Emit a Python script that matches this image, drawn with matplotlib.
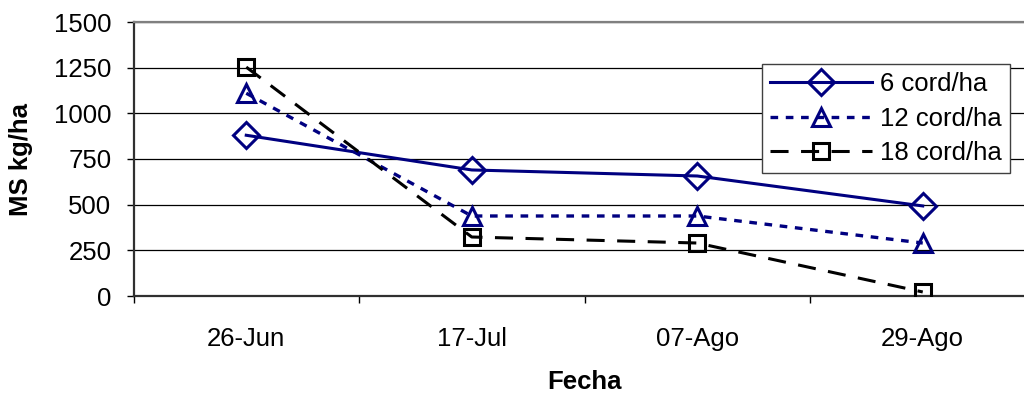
import matplotlib
matplotlib.use("Agg")
import matplotlib.pyplot as plt
from matplotlib.ticker import FixedLocator

plt.rcParams['font.family'] = ['Liberation Sans', 'DejaVu Sans']
plt.rcParams['lines.scale_dashes'] = False

fechas = ['26-Jun', '17-Jul', '07-Ago', '29-Ago']
cord6 = [880, 690, 657, 493]
cord12 = [1110, 438, 438, 290]
cord18 = [1253, 323, 290, 22]
yticks = [0, 250, 500, 750, 1000, 1250, 1500]

navy = '#000080'

fig = plt.figure(figsize=(10.24, 3.95), dpi=100)
# plot area runs past the right edge of the picture, like the original
ax = fig.add_axes([133.5 / 1024, 99 / 395, 902 / 1024, 274 / 395])

x = range(len(fechas))
ax.plot(x, cord6, color=navy, lw=2.2, marker='D', ms=13, mfc='none',
        mec=navy, mew=2.2, label='6 cord/ha', zorder=4)
ax.plot(x, cord12, color=navy, lw=2.4, dashes=[5.5, 5.5], marker='^', ms=13,
        mfc='none', mec=navy, mew=2.2, label='12 cord/ha', zorder=4)
ax.plot(x, cord18, color='black', lw=2.2, dashes=[13, 9], marker='s', ms=12,
        mfc='none', mec='black', mew=2.2, label='18 cord/ha', zorder=4)

ax.set_xlim(-0.5, 3.5)
ax.set_ylim(0, 1500)
ax.set_yticks(yticks)
ax.set_xticks(list(x))
ax.set_xticklabels(fechas)
ax.xaxis.set_minor_locator(FixedLocator([-0.5, 0.5, 1.5, 2.5, 3.5]))

ax.yaxis.grid(True, color='black', lw=0.9)
ax.set_axisbelow(True)

ax.tick_params(axis='y', direction='out', length=5, width=1, labelsize=18.5,
               pad=11, color='black')
ax.tick_params(axis='x', which='major', length=0, labelsize=18.5, pad=22)
ax.tick_params(axis='x', which='minor', direction='out', length=5, width=1,
               color='black')

for side in ['left', 'bottom']:
    ax.spines[side].set_color('#303030')
    ax.spines[side].set_linewidth(1.6)
ax.spines['top'].set_color('#808080')
ax.spines['top'].set_linewidth(1.6)
ax.spines['right'].set_visible(False)

ax.set_ylabel('MS kg/ha', fontsize=18.5, fontweight='bold')
ax.yaxis.set_label_coords(-0.111, 0.5)
ax.set_xlabel('Fecha', fontsize=18.5, fontweight='bold')
ax.xaxis.set_label_coords(0.5, -0.27)

leg = ax.legend(loc='upper left', bbox_to_anchor=((762 - 133.5) / 902, (296 - 64) / 274),
                fontsize=18.5, frameon=True, fancybox=False, framealpha=1,
                edgecolor='#404040', borderpad=0.3, labelspacing=0.42,
                handlelength=4.0, handletextpad=0.3, borderaxespad=0)
leg.get_frame().set_linewidth(1.0)

fig.savefig('out.png', dpi=100)
